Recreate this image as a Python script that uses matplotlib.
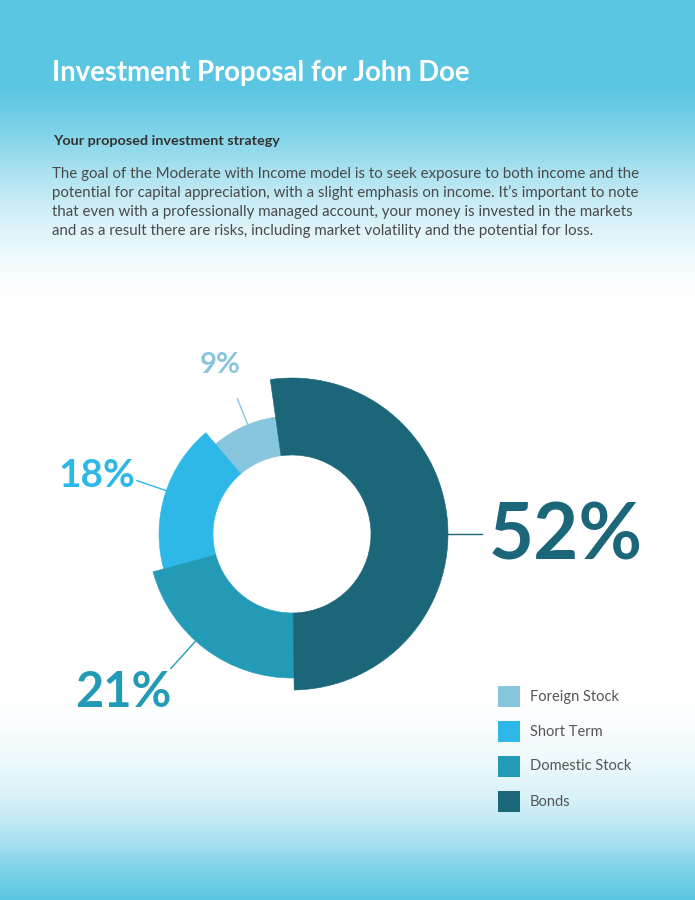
import numpy as np
import matplotlib
matplotlib.use('Agg')
import matplotlib.pyplot as plt
from matplotlib.patches import Wedge, Rectangle

# ---- data ----
categories = ['Foreign Stock', 'Short Term', 'Domestic Stock', 'Bonds']
shares = [9, 18, 21, 52]
colors = ['#88c6de', '#2eb8e8', '#239bb6', '#1b6679']

title = 'Investment Proposal for John Doe'
subtitle = 'Your proposed investment strategy'
para_lines = [
    'The goal of the Moderate with Income model is to seek exposure to both income and the',
    'potential for capital appreciation, with a slight emphasis on income. It\u2019s important to note',
    'that even with a professionally managed account, your money is invested in the markets',
    'and as a result there are risks, including market volatility and the potential for loss.',
]

# ---- style (pixel units, y up, relative to donut centre) ----
outer_r = [118, 133, 144, 156]
hole_r = 79
start_angle = 98
leader_ang = [112, 161, 228, 0]
leader_len = [28, 31, 37, 34]
label_xy = [(-92, 161), (-234, 47), (-217, -173), (197, -26)]
label_size = [21, 28, 35, 56]

plt.rcParams['font.family'] = ['Lato', 'DejaVu Sans']

W, H = 695, 900
cx, cy = 292, 534
fig = plt.figure(figsize=(W / 100, H / 100), dpi=100)

# background gradient: cyan band top and bottom, white middle
bg = fig.add_axes([0, 0, 1, 1])
bg.axis('off')
rows = np.arange(H)
t = np.interp(rows,
              [0, 88, 115, 140, 170, 200, 230, 260, 295, 700, 760, 800, 840, 870, 899],
              [1, 1, .86, .72, .52, .34, .19, .08, 0, 0, .1, .25, .52, .8, 1])
cyan = np.array([91, 198, 226]) / 255
img = 1 - t[:, None] * (1 - cyan)[None, :]
img = np.repeat(img[:, None, :], 2, axis=1)
bg.imshow(img, aspect='auto', extent=[0, 1, 0, 1], origin='upper')

# donut axes, 1 data unit == 1 pixel
ax = fig.add_axes([0, 0, 1, 1])
ax.set_xlim(-cx, W - cx)
ax.set_ylim(-(H - cy), cy)
ax.axis('off')

theta = start_angle + 360 * np.concatenate([[0], np.cumsum(shares)]) / sum(shares)
for i in range(len(shares)):
    ax.add_patch(Wedge((0, 0), outer_r[i], theta[i], theta[i + 1],
                       width=outer_r[i] - hole_r, facecolor=colors[i],
                       edgecolor=colors[i], lw=0.4))

    a = np.deg2rad(leader_ang[i])
    r0, r1 = outer_r[i] - 1, outer_r[i] + leader_len[i]
    ax.plot([r0 * np.cos(a), r1 * np.cos(a)], [r0 * np.sin(a), r1 * np.sin(a)],
            color=colors[i], lw=1)

    ax.text(label_xy[i][0], label_xy[i][1], f'{shares[i]}%', color=colors[i],
            fontsize=label_size[i], fontweight='bold', ha='left', va='baseline')

# legend
for i, cat in enumerate(categories):
    top = 686 + 35 * i
    ax.add_patch(Rectangle((498 - cx, cy - top - 21), 22, 21, facecolor=colors[i], lw=0))
    ax.text(530 - cx, cy - top - 10.5, cat, color='#555555', fontsize=10.5,
            ha='left', va='center')

# header text
fig.text(52 / W, 1 - 81 / H, title, color='white', fontsize=19.8,
         fontweight='bold', va='baseline')
fig.text(53 / W, 1 - 145 / H, subtitle, color='#333333', fontsize=10.4,
         fontweight='bold', va='baseline')
for k, line in enumerate(para_lines):
    fig.text(52 / W, 1 - (178 + 19 * k) / H, line, color='#4a4a4a',
             fontsize=10.8, va='baseline')

fig.savefig('out.png', dpi=100)
